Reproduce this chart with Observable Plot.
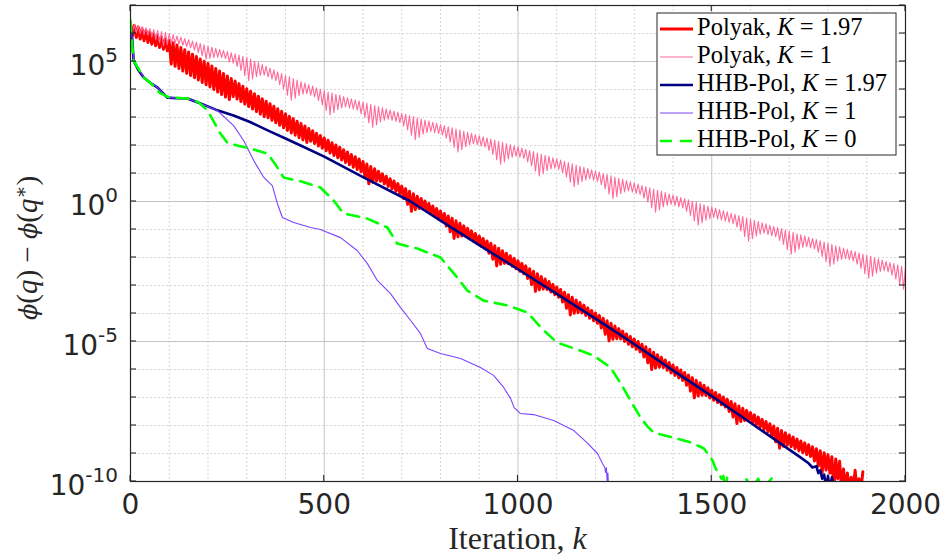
<!DOCTYPE html>
<html><head><meta charset="utf-8">
<script src="https://cdn.jsdelivr.net/npm/d3@7"></script>
<script src="https://cdn.jsdelivr.net/npm/@observablehq/plot@0.6"></script>
<style>body{margin:0;background:#fff}#chart{width:943px;height:560px}</style>
</head><body><div id="chart"></div>
<script>
// ---- data: log10(phi(q)-phi(q*)) ----
// Polyak, K=1.97 : peaks at k = 0,10,...,1890 ; troughs at k = 5,15,...,1885
const polyakK197Peaks = [
6.35,6.29,6.23,6.17,6.11,6.05,5.99,5.93,5.87,5.81,
5.75,5.67,5.59,5.50,5.42,5.34,5.26,5.18,5.09,5.01,
4.93,4.84,4.75,4.66,4.57,4.48,4.39,4.30,4.21,4.12,
4.03,3.94,3.85,3.76,3.67,3.58,3.49,3.40,3.31,3.22,
3.13,3.04,2.96,2.87,2.79,2.70,2.61,2.53,2.44,2.36,
2.27,2.19,2.10,2.02,1.94,1.85,1.77,1.68,1.60,1.52,
1.43,1.34,1.25,1.17,1.08,0.99,0.90,0.81,0.73,0.64,
0.55,0.46,0.37,0.28,0.19,0.11,0.02,-0.07,-0.16,-0.25,
-0.34,-0.43,-0.52,-0.60,-0.69,-0.78,-0.87,-0.96,-1.05,-1.14,
-1.23,-1.32,-1.41,-1.49,-1.58,-1.67,-1.76,-1.85,-1.94,-2.03,
-2.12,-2.21,-2.30,-2.40,-2.49,-2.58,-2.68,-2.77,-2.86,-2.96,
-3.05,-3.14,-3.24,-3.33,-3.42,-3.52,-3.61,-3.70,-3.80,-3.89,
-3.98,-4.07,-4.17,-4.26,-4.35,-4.45,-4.54,-4.63,-4.73,-4.82,
-4.91,-5.00,-5.10,-5.19,-5.28,-5.38,-5.47,-5.56,-5.66,-5.75,
-5.84,-5.93,-6.02,-6.11,-6.20,-6.29,-6.38,-6.47,-6.56,-6.65,
-6.74,-6.82,-6.90,-6.98,-7.06,-7.14,-7.22,-7.30,-7.38,-7.46,
-7.54,-7.62,-7.70,-7.78,-7.86,-7.94,-8.02,-8.10,-8.18,-8.26,
-8.34,-8.41,-8.48,-8.55,-8.62,-8.69,-8.76,-8.83,-8.90,-8.97,
-9.04,-9.12,-9.20,-9.28,-9.55,-9.70,-9.85,-9.60,-9.90,-9.65];
const polyakK197Troughs = [
5.92,5.86,5.80,5.74,5.68,5.62,5.56,5.50,5.44,5.38,
4.91,4.83,4.75,4.66,4.58,4.50,4.42,4.34,4.25,4.17,
4.09,4.00,3.91,3.82,3.73,3.64,3.75,3.66,3.57,3.48,
3.39,3.30,3.21,3.12,3.03,2.99,2.90,2.81,2.72,2.63,
2.54,2.45,2.37,2.28,2.20,2.11,2.15,2.07,1.98,1.90,
1.81,1.73,1.64,1.56,1.48,1.39,1.31,1.22,1.14,1.06,
0.87,0.63,0.69,0.73,0.72,0.63,0.54,0.45,0.37,0.28,
0.11,-0.10,-0.35,-0.29,-0.25,-0.26,-0.35,-0.44,-0.53,-0.62,
-0.71,-0.88,-1.08,-1.32,-1.26,-1.23,-1.24,-1.33,-1.42,-1.51,
-1.60,-1.69,-1.85,-2.06,-2.30,-2.24,-2.21,-2.22,-2.31,-2.40,
-2.49,-2.58,-2.75,-2.97,-3.21,-3.15,-3.13,-3.14,-3.23,-3.33,
-3.42,-3.59,-3.81,-4.05,-3.99,-3.97,-3.98,-4.07,-4.17,-4.26,
-4.35,-4.52,-4.74,-4.98,-4.92,-4.90,-4.91,-5.00,-5.10,-5.19,
-5.28,-5.37,-5.55,-5.76,-6.00,-5.95,-5.92,-5.93,-6.03,-6.12,
-6.21,-6.30,-6.39,-6.56,-6.77,-7.01,-6.95,-6.92,-6.93,-7.02,
-7.10,-7.18,-7.26,-7.34,-7.50,-7.70,-7.93,-7.86,-7.82,-7.82,
-7.90,-7.98,-8.06,-8.14,-8.22,-8.38,-8.58,-8.81,-8.74,-8.70,
-8.76,-8.83,-8.90,-8.97,-9.04,-9.11,-9.27,-9.45,-9.67,-9.59,
-9.70,-10.3,-9.90,-10.3,-10.3,-10.3,-10.3,-10.3,-10.3];

// Polyak, K=1 : peaks at k = 0,10,...,2000 ; troughs at k = 5,15,...,1995
const polyakK1Peaks = [
6.35,6.32,6.28,6.25,6.21,6.18,6.14,6.11,6.07,6.04,
6.00,5.96,5.91,5.87,5.82,5.78,5.73,5.69,5.64,5.60,
5.55,5.51,5.47,5.43,5.39,5.35,5.31,5.27,5.23,5.19,
5.15,5.09,5.02,4.96,4.89,4.83,4.76,4.70,4.63,4.57,
4.50,4.45,4.39,4.34,4.28,4.23,4.17,4.12,4.06,4.01,
3.95,3.91,3.87,3.83,3.79,3.75,3.71,3.67,3.63,3.59,
3.55,3.51,3.47,3.43,3.39,3.35,3.31,3.27,3.23,3.19,
3.15,3.11,3.07,3.03,2.99,2.95,2.91,2.87,2.83,2.79,
2.75,2.71,2.67,2.63,2.59,2.55,2.51,2.47,2.43,2.39,
2.35,2.31,2.27,2.23,2.19,2.15,2.11,2.07,2.03,1.99,
1.95,1.91,1.86,1.82,1.78,1.73,1.69,1.65,1.61,1.56,
1.52,1.48,1.43,1.39,1.35,1.30,1.26,1.22,1.18,1.13,
1.09,1.05,1.00,0.96,0.92,0.87,0.83,0.79,0.75,0.70,
0.66,0.62,0.57,0.53,0.49,0.44,0.40,0.36,0.32,0.27,
0.23,0.19,0.14,0.10,0.06,0.01,-0.03,-0.07,-0.11,-0.16,
-0.20,-0.24,-0.29,-0.33,-0.37,-0.42,-0.46,-0.50,-0.54,-0.59,
-0.63,-0.67,-0.72,-0.76,-0.80,-0.85,-0.89,-0.93,-0.97,-1.02,
-1.06,-1.10,-1.15,-1.19,-1.23,-1.28,-1.32,-1.36,-1.40,-1.45,
-1.49,-1.53,-1.58,-1.62,-1.66,-1.71,-1.75,-1.79,-1.83,-1.88,
-1.92,-1.96,-2.01,-2.05,-2.09,-2.14,-2.18,-2.22,-2.26,-2.31,
-2.35];
const polyakK1Troughs = [
6.07,6.03,6.00,5.96,5.93,5.86,5.78,5.67,5.56,5.60,
5.63,5.64,5.62,5.58,5.53,5.49,5.41,5.32,5.20,5.08,
5.11,5.14,5.15,5.14,5.10,4.98,4.94,4.82,4.68,4.49,
4.32,4.38,4.46,4.50,4.51,4.45,4.38,4.32,4.17,4.01,
3.80,3.62,3.69,3.78,3.83,3.85,3.80,3.74,3.61,3.45,
3.25,3.09,3.17,3.28,3.34,3.38,3.34,3.30,3.26,3.14,
3.00,2.81,2.65,2.73,2.84,2.90,2.94,2.90,2.86,2.82,
2.70,2.56,2.37,2.21,2.29,2.40,2.46,2.50,2.46,2.42,
2.38,2.26,2.12,1.93,1.77,1.85,1.96,2.02,2.06,2.02,
1.98,1.94,1.82,1.68,1.49,1.33,1.41,1.52,1.58,1.62,
1.58,1.54,1.41,1.27,1.08,0.91,0.99,1.10,1.16,1.19,
1.15,1.03,0.88,0.69,0.53,0.60,0.71,0.77,0.81,0.76,
0.72,0.60,0.45,0.26,0.10,0.17,0.28,0.34,0.38,0.33,
0.29,0.25,0.12,-0.02,-0.22,-0.38,-0.30,-0.19,-0.14,-0.10,
-0.14,-0.19,-0.23,-0.35,-0.50,-0.69,-0.85,-0.77,-0.67,-0.61,
-0.57,-0.62,-0.66,-0.70,-0.75,-0.79,-0.91,-1.05,-1.25,-1.41,
-1.33,-1.23,-1.17,-1.13,-1.18,-1.22,-1.26,-1.39,-1.53,-1.72,
-1.88,-1.81,-1.70,-1.64,-1.61,-1.65,-1.69,-1.81,-1.96,-2.15,
-2.31,-2.24,-2.13,-2.07,-2.04,-2.08,-2.12,-2.24,-2.39,-2.58,
-2.74,-2.67,-2.56,-2.50,-2.47,-2.51,-2.63,-2.77,-2.97,-3.13];

// HHB-Pol, K=1.97
const hhbK197Iter = [0,3,8,20,34,50,70,95,120,147,
181,220,266,310,354,400,439,500,600,723,
800,900,1000,1100,1200,1290,1400,1500,1600,1700,
1729,1750,1760,1770,1775,1780,1785,1790,1795,1800,
1805,1810,1815,1820];
const hhbK197Log = [6.25,6.1,5.04,4.7,4.43,4.25,4.07,3.71,3.69,3.68,
3.5,3.28,3.07,2.83,2.54,2.25,2.0,1.6,0.87,0,
-0.68,-1.56,-2.42,-3.3,-4.18,-5.0,-6.03,-6.95,-7.9,-8.86,
-9.14,-9.35,-9.5,-9.45,-9.7,-9.6,-9.9,-9.75,-10.2,-9.8,
-10.3,-9.85,-10.3,-10.3];

// HHB-Pol, K=1
const hhbK1Iter = [0,3,8,34,70,95,147,181,224,266,
292,318,344,366,379,392,421,465,490,542,
585,611,637,671,697,723,748,766,800,852,
903,937,963,981,990,1006,1040,1092,1144,1178,
1205,1218,1224,1226,1228,1230,1232,1234];
const hhbK1Log = [6.25,6.1,5.04,4.43,4.07,3.71,3.68,3.5,3.25,2.71,
2.18,1.46,0.86,0.57,-0.07,-0.57,-0.75,-0.93,-1.0,-1.29,
-1.75,-2.21,-2.82,-3.29,-3.79,-4.25,-4.71,-5.25,-5.43,-5.61,
-5.93,-6.21,-6.64,-7.04,-7.36,-7.57,-7.61,-7.82,-8.18,-8.61,
-9.0,-9.36,-9.5,-9.68,-9.5,-9.96,-9.7,-10.3];

// HHB-Pol, K=0
const hhbK0Iter = [0,3,8,34,50,77,100,147,175,199,
215,232,250,280,310,354,375,395,439,490,
524,550,611,663,688,740,800,843,869,911,
972,1024,1066,1101,1154,1195,1239,1265,1290,1316,
1335,1350,1368,1401,1445,1480,1502,1510,1518,1525,
1530,1535,1540,1545,1560,1570,1590,1600,1620,1630,
1655,1660];
const hhbK0Log = [6.46,5.8,5.04,4.43,4.25,3.86,3.72,3.68,3.55,3.25,
2.85,2.43,2.1,1.98,1.89,1.71,1.3,0.86,0.72,0.5,
0.04,-0.43,-0.61,-0.93,-1.5,-1.68,-2.0,-2.71,-3.18,-3.54,
-3.71,-3.96,-4.6,-5.04,-5.29,-5.5,-5.93,-6.5,-7.1,-7.71,
-8.05,-8.25,-8.32,-8.43,-8.6,-8.82,-9.25,-9.54,-9.71,-9.9,
-9.8,-10.3,-9.85,-10.3,-9.95,-10.3,-9.92,-10.3,-9.9,-10.3,
-9.88,-10.3];

// axes
const xTicks = [0, 500, 1000, 1500, 2000];
const xMajorGrid = [500, 1000, 1500];
const xMinorGrid = [100,200,300,400,600,700,800,900,1100,1200,1300,1400,1600,1700,1800,1900];
const yTickExps = [-10, -5, 0, 5];
const yMajorGridExps = [-5, 0, 5];
const yMinorGridExps = [-9,-8,-7,-6,-4,-3,-2,-1,1,2,3,4,6];
const yDecadeExps = [-10,-9,-8,-7,-6,-5,-4,-3,-2,-1,0,1,2,3,4,5,6,7];

const seriesNames = ["Polyak", "Polyak", "HHB-Pol", "HHB-Pol", "HHB-Pol"];
const seriesK = ["1.97", "1", "1.97", "1", "0"];
const seriesColors = ["#ff0000", "#ff6a98", "#000080", "#7b45ff", "#00ff00"];
const seriesWidths = [3, 1.1, 2.6, 1.1, 2.6];
const seriesDash = [null, null, null, null, "12,8"];

// ---- build tables ----
function zigzag(peaks, troughs, step) {
  const out = [];
  peaks.forEach((p, i) => {
    out.push({k: i * step, v: Math.pow(10, p)});
    if (i < troughs.length) out.push({k: i * step + step / 2, v: Math.pow(10, troughs[i])});
  });
  return out;
}
function pts(iters, logs) { return iters.map((k, i) => ({k, v: Math.pow(10, logs[i])})); }

const seriesData = [
  zigzag(polyakK197Peaks, polyakK197Troughs, 10),
  zigzag(polyakK1Peaks, polyakK1Troughs, 10),
  pts(hhbK197Iter, hhbK197Log),
  pts(hhbK1Iter, hhbK1Log),
  pts(hhbK0Iter, hhbK0Log)
];

const W = 943, H = 560, ML = 130, MR = 38, MT = 5, MB = 79;
const gridMajor = "#c4c4c4", gridMinor = "#d8d8d8", axisCol = "#262626";

const lineMarks = seriesData.map((data, i) => Plot.line(data, {
  x: "k", y: "v", stroke: seriesColors[i], strokeWidth: seriesWidths[i],
  strokeDasharray: seriesDash[i] || undefined, strokeLinejoin: "round", clip: true
}));

const chart = Plot.plot({
  width: W, height: H, marginLeft: ML, marginRight: MR, marginTop: MT, marginBottom: MB,
  style: {background: "#fff", fontFamily: "'DejaVu Sans', sans-serif", fontSize: "28px", color: axisCol},
  x: {domain: [0, 2000]},
  y: {type: "log", domain: [1e-10, 1e7]},
  marks: [
    Plot.ruleX(xMinorGrid, {stroke: gridMinor, strokeDasharray: "2,2"}),
    Plot.ruleY(yMinorGridExps.map(e => Math.pow(10, e)), {stroke: gridMinor, strokeDasharray: "2,2"}),
    Plot.ruleX(xMajorGrid, {stroke: gridMajor}),
    Plot.ruleY(yMajorGridExps.map(e => Math.pow(10, e)), {stroke: gridMajor}),
    ...lineMarks,
    Plot.frame({stroke: axisCol, strokeWidth: 1.2}),
    Plot.axisX(xTicks, {tickSize: 0, tickPadding: 13, tickFormat: d => `${d}`, label: null, fontSize: 28}),
    Plot.axisY(yTickExps.map(e => Math.pow(10, e)), {tickSize: 0, tickPadding: 12, label: null, fontSize: 28,
      tickFormat: d => `${Math.round(Math.log10(d))}`})
  ]
});
document.getElementById("chart").appendChild(chart);

// ---- post-processing with the library's scales ----
const sx = chart.scale("x"), sy = chart.scale("y");
const svg = d3.select(chart);
const X0 = ML, X1 = W - MR, Y0 = MT, Y1 = H - MB;

// y tick labels as 10^e with superscript
const yg = chart.querySelector('g[aria-label="y-axis tick label"]');
if (yg) {
  yg.removeAttribute("transform");
  yg.setAttribute("text-anchor", "end");
  yg.querySelectorAll("text").forEach(t => {
    const e = +t.textContent.replace("\u2212", "-");
    const y = sy.apply(Math.pow(10, e));
    ["x", "y", "dy", "dx"].forEach(a => t.removeAttribute(a));
    t.setAttribute("transform", `translate(${X0 - 12},${y})`);
    t.setAttribute("text-anchor", "end");
    t.textContent = "";
    const s = d3.select(t);
    s.append("tspan").attr("y", 14).style("font-size", "28px").text("10");
    s.append("tspan").attr("dy", -13).style("font-size", "20px").text(`${e}`);
  });
}

// inward ticks on all four sides
const tg = svg.append("g").attr("stroke", axisCol).attr("stroke-width", 1.1);
yDecadeExps.forEach(e => {
  const y = sy.apply(Math.pow(10, e));
  tg.append("line").attr("x1", X0).attr("x2", X0 + 6).attr("y1", y).attr("y2", y);
  tg.append("line").attr("x1", X1).attr("x2", X1 - 6).attr("y1", y).attr("y2", y);
});
xTicks.forEach(v => {
  const x = sx.apply(v);
  tg.append("line").attr("x1", x).attr("x2", x).attr("y1", Y1).attr("y2", Y1 - 6);
  tg.append("line").attr("x1", x).attr("x2", x).attr("y1", Y0).attr("y2", Y0 + 6);
});

// axis labels (LaTeX-like serif)
const serif = "'Liberation Serif', 'DejaVu Serif', serif";
const greek = "'DejaVu Serif', serif";
const xl = svg.append("text").attr("x", (X0 + X1) / 2).attr("y", 549).attr("text-anchor", "middle")
  .attr("fill", axisCol).style("font-family", serif).style("font-size", "32px");
xl.append("tspan").text("Iteration, ");
xl.append("tspan").style("font-style", "italic").text("k");

const yl = svg.append("text").attr("transform", `translate(37,248) rotate(-90)`)
  .attr("text-anchor", "middle").attr("fill", axisCol).style("font-family", serif).style("font-size", "29px");
yl.append("tspan").style("font-style", "italic").style("font-family", greek).style("font-size", "24px").text("\u03D5");
yl.append("tspan").text("(");
yl.append("tspan").style("font-style", "italic").text("q");
yl.append("tspan").text(") \u2212 ");
yl.append("tspan").style("font-style", "italic").style("font-family", greek).style("font-size", "24px").text("\u03D5");
yl.append("tspan").text("(");
yl.append("tspan").style("font-style", "italic").text("q");
yl.append("tspan").attr("dy", -10).style("font-size", "19px").text("\u2217");
yl.append("tspan").attr("dy", 10).text(")");

// legend box
const lg = svg.append("g");
lg.append("rect").attr("x", 657).attr("y", 13).attr("width", 239).attr("height", 142)
  .attr("fill", "#fff").attr("stroke", axisCol).attr("stroke-width", 1);
seriesNames.forEach((n, i) => {
  const base = 35 + i * 28;
  lg.append("line").attr("x1", 660).attr("x2", 693).attr("y1", base - 6).attr("y2", base - 6)
    .attr("stroke", seriesColors[i]).attr("stroke-width", seriesWidths[i])
    .attr("stroke-dasharray", seriesDash[i]);
  const t = lg.append("text").attr("x", 697).attr("y", base).attr("fill", "#000")
    .attr("text-anchor", "start").style("font-family", serif).style("font-size", "24.5px");
  t.append("tspan").text(`${n}, `);
  t.append("tspan").style("font-style", "italic").text("K");
  t.append("tspan").text(` = ${seriesK[i]}`);
});
</script>
</body></html>
